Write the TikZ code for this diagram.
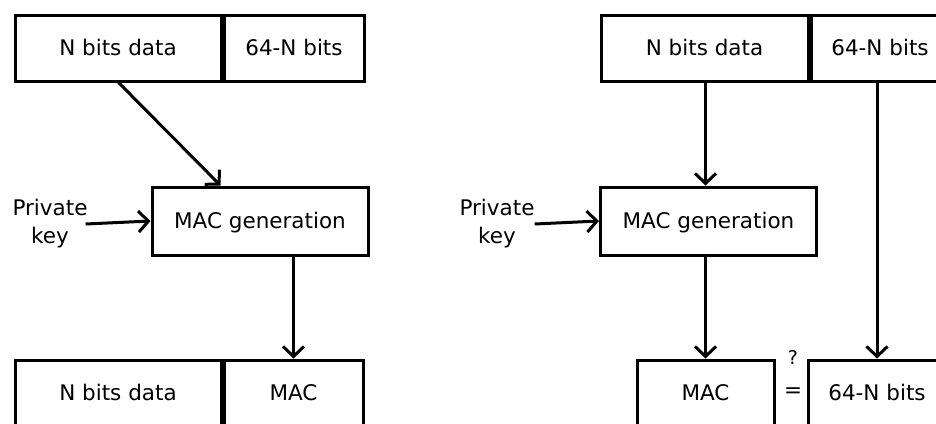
\documentclass[tikz,border=0pt]{standalone}
\usepackage{fontspec}
\setmainfont{DejaVu Sans}
\usepackage{tikz}
\usetikzlibrary{arrows.meta,positioning}

\begin{document}
\begin{tikzpicture}[
        x=1pt, y=-1pt,
        every node/.style={font=\fontsize{21.5}{28}\selectfont},
        field/.style={draw, line width=3pt, minimum height=66pt, inner sep=0pt, text height=18pt, text depth=4pt},
        unit/.style={draw, line width=3pt, minimum width=216pt, minimum height=68pt, text height=18pt, text depth=4pt},
        arrow/.style={-{Straight Barb[length=10pt, width=21pt]}, line width=3pt}
    ]
        \useasboundingbox (0,0) rectangle (936,423);
        \clip (0,0) rectangle (936,423);

        % sender side
        \node[field, minimum width=206pt] (ldata) at (118,48) {N bits data};
        \node[field, minimum width=140pt, right=0pt of ldata] (lrest) {64-N bits};
        \node[unit] (lmac) at (260,221) {MAC generation};
        \node[align=center, inner sep=0pt] (lkey) at (50,224) {Private\\key};
        \node[field, minimum width=206pt] (lout) at (118,393) {N bits data};
        \node[field, minimum width=139pt, right=0pt of lout] (ltag) {MAC};

        \draw[arrow] ([xshift=105pt]ldata.south west) -- ([xshift=70pt]lmac.north west);
        \draw[arrow] ([xshift=-2pt]lkey.east) -- (lmac.west);
        \draw[arrow] ([yshift=3pt]ltag.north |- lmac.south) -- (ltag.north);

        % receiver side
        \node[field, minimum width=207pt] (rdata) at (704.5,48) {N bits data};
        \node[field, minimum width=138pt, right=0pt of rdata] (rrest) {64-N bits};
        \node[unit] (rmac) at (708.5,221) {MAC generation};
        \node[align=center, inner sep=0pt] (rkey) at (497,224) {Private\\key};
        \node[field, minimum width=137pt] (rtag) at (705.5,393) {MAC};
        \node[field, minimum width=138pt] (rcheck) at (877,393) {64-N bits};
        \node[inner sep=0pt] (eq) at (793,393) {=};
        \node[inner sep=0pt, font=\fontsize{19}{22}\selectfont] (ask) at (793,357) {?};

        \draw[arrow] (rtag.north |- rdata.south) -- (rtag.north |- rmac.north);
        \draw[arrow] (rkey.east) -- (rmac.west);
        \draw[arrow] ([yshift=3pt]rtag.north |- rmac.south) -- (rtag.north);
        \draw[arrow] (rcheck.north |- rrest.south) -- (rcheck.north);
    \end{tikzpicture}
\end{document}
